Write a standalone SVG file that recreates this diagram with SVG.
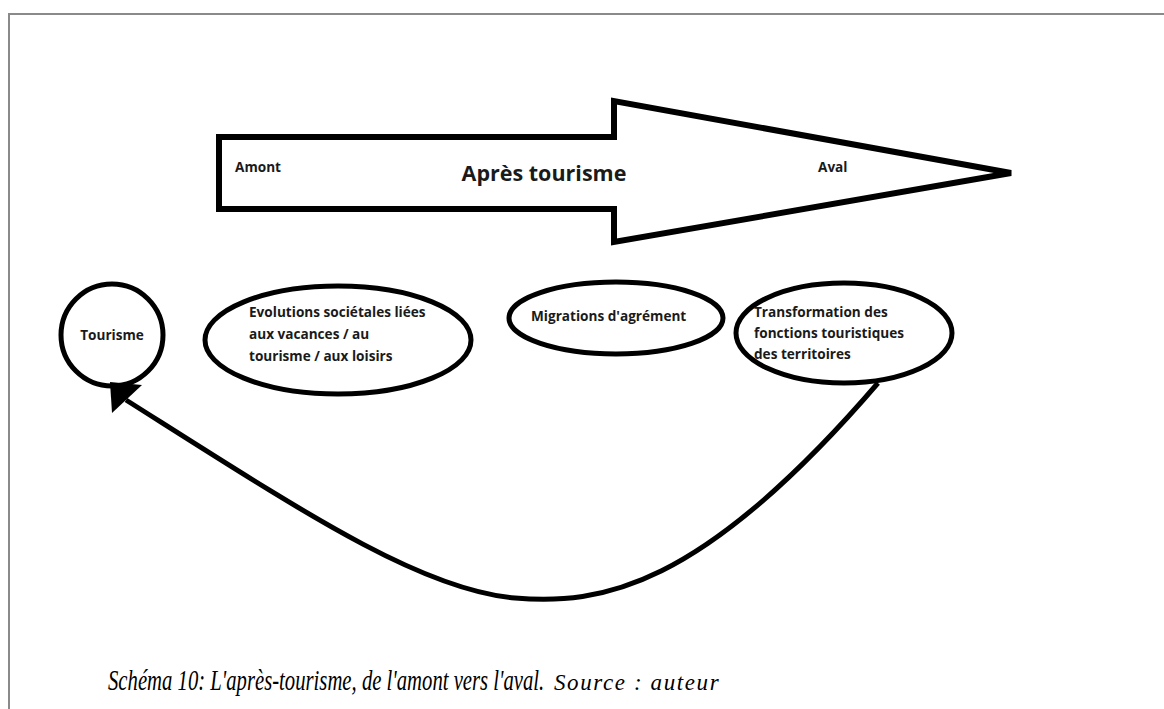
<svg xmlns="http://www.w3.org/2000/svg" width="1164" height="709" viewBox="0 0 1164 709">
<style>
.frame{fill:none;stroke:#8a8a8a;stroke-width:2}
.shape{fill:#fff;stroke:#000;stroke-width:6;stroke-linejoin:miter}
.node{fill:#fff;stroke:#000;stroke-width:5}
.lbl{font-family:"Open Sans","Liberation Sans",sans-serif;font-weight:700;font-size:13.6px;fill:#1a1a1a}
.title{font-family:"Open Sans","Liberation Sans",sans-serif;font-weight:700;font-size:21.5px;fill:#1a1a1a}
.conn{fill:none;stroke:#000;stroke-width:5}
.cap{font-family:"Liberation Serif",serif;font-style:italic;fill:#000}
</style>
<rect width="1164" height="709" fill="#fff"/>
<path class="frame" d="M9,709 V14 H1164"/>
<g id="big-arrow">
<polygon class="shape" points="219,137 614,137 614,101 1011,173 614,242 614,209 219,209"/>
<text class="lbl" x="235" y="172">Amont</text>
<text class="title" x="544" y="181" text-anchor="middle">Après tourisme</text>
<text class="lbl" x="818" y="172">Aval</text>
</g>
<g id="tourisme">
<circle class="node" cx="112" cy="335" r="51"/>
<text class="lbl" x="112" y="340" text-anchor="middle">Tourisme</text>
</g>
<g id="evolutions">
<ellipse class="node" cx="338" cy="340" rx="133" ry="54"/>
<text class="lbl" x="249" y="317">Evolutions sociétales liées</text>
<text class="lbl" x="249" y="339">aux vacances / au</text>
<text class="lbl" x="249" y="361">tourisme / aux loisirs</text>
</g>
<g id="migrations">
<ellipse class="node" cx="616" cy="318" rx="107" ry="36"/>
<text class="lbl" x="531" y="321">Migrations d'agrément</text>
</g>
<g id="transformation">
<ellipse class="node" cx="844" cy="333" rx="108" ry="50"/>
<text class="lbl" x="754" y="317">Transformation des</text>
<text class="lbl" x="754" y="338">fonctions touristiques</text>
<text class="lbl" x="754" y="359">des territoires</text>
</g>
<g id="connectors">
<path class="conn" d="M878,383 C700,590 600,605 515,598 C420,590 300,510 126,400"/>
<polygon points="110,382 142,385 112,413" fill="#000"/>
</g>
<g id="caption">
<text class="cap" transform="translate(108,690) scale(0.69,1)" x="0" y="0" font-size="30">Schéma 10: L'après-tourisme, de l'amont vers l'aval.</text>
<text class="cap" x="554" y="690" font-size="23" letter-spacing="1.6">Source : auteur</text>
</g>
</svg>
